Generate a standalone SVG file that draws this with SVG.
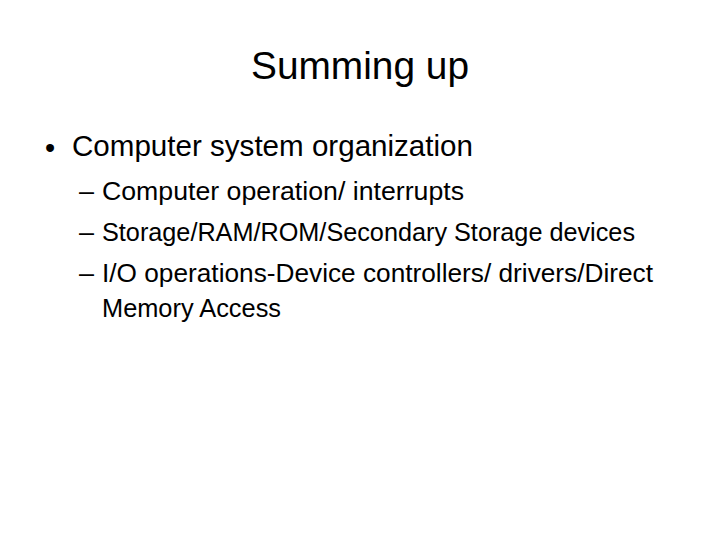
<svg xmlns="http://www.w3.org/2000/svg" width="720" height="540" viewBox="0 0 720 540">
<style>
text{font-family:"Liberation Sans","Noto Sans",sans-serif;fill:#000}
.t{font-size:39px}
.b1{font-size:29px}
.b2{font-size:25px}
</style>
<rect width="720" height="540" fill="#fff"/>
<g id="title"><text class="t" x="251" y="79" textLength="218" lengthAdjust="spacingAndGlyphs">Summing up</text></g>
<g id="bullet1">
<text class="b1" x="45" y="158">•</text>
<text class="b1" x="72" y="156" textLength="401" lengthAdjust="spacingAndGlyphs">Computer system organization</text>
</g>
<g id="sub1">
<text class="b2" x="79" y="200" textLength="15" lengthAdjust="spacingAndGlyphs">–</text>
<text class="b2" x="102" y="200" textLength="362" lengthAdjust="spacingAndGlyphs">Computer operation/ interrupts</text>
</g>
<g id="sub2">
<text class="b2" x="79" y="241" textLength="15" lengthAdjust="spacingAndGlyphs">–</text>
<text class="b2" x="102" y="241" textLength="533" lengthAdjust="spacingAndGlyphs">Storage/RAM/ROM/Secondary Storage devices</text>
</g>
<g id="sub3">
<text class="b2" x="79" y="282" textLength="15" lengthAdjust="spacingAndGlyphs">–</text>
<text class="b2" x="102" y="282" textLength="551" lengthAdjust="spacingAndGlyphs">I/O operations-Device controllers/ drivers/Direct</text>
<text class="b2" x="102" y="317" textLength="179" lengthAdjust="spacingAndGlyphs">Memory Access</text>
</g>
</svg>
